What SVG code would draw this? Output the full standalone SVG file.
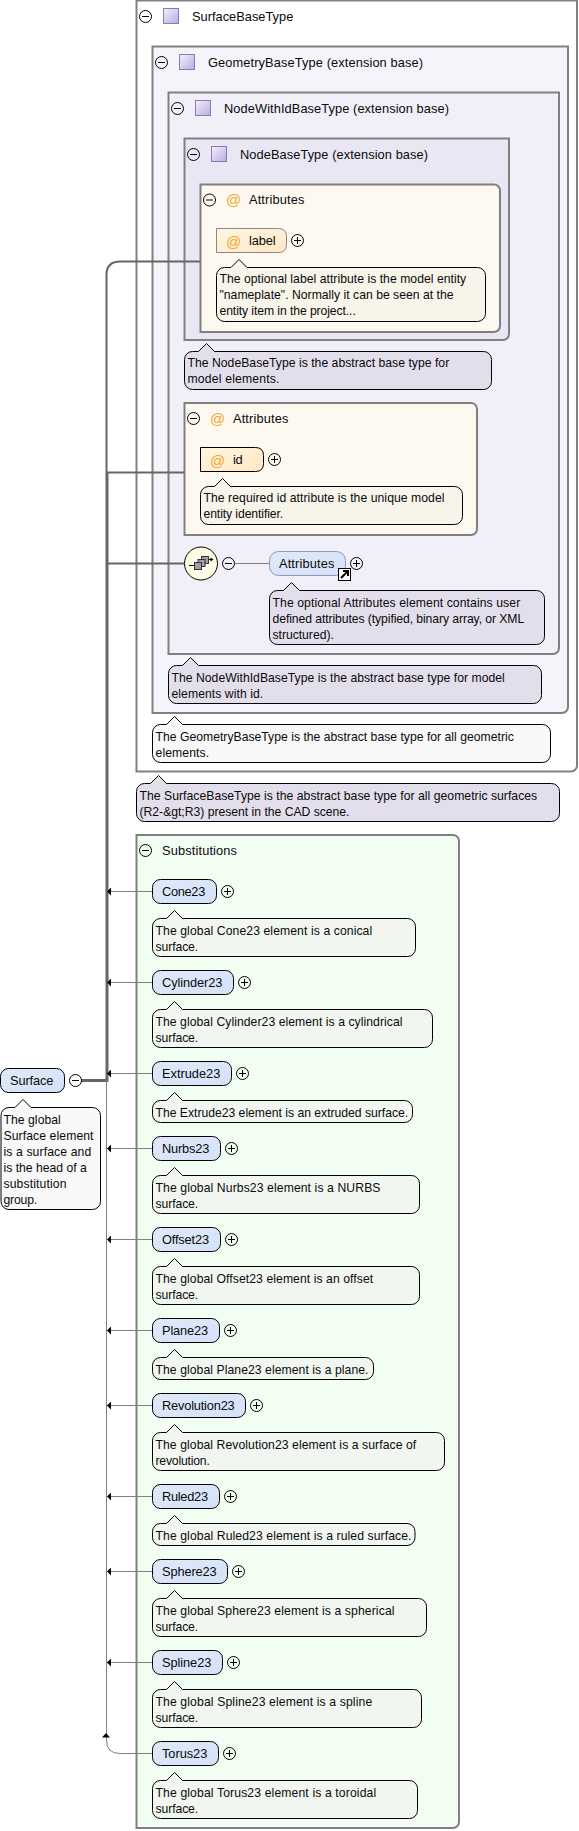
<svg xmlns="http://www.w3.org/2000/svg" width="579" height="1831" viewBox="0 0 579 1831">
<style>
text{font-family:"Liberation Sans",Arial,sans-serif;font-size:12.2px;fill:#0a0a0a}
.t{font-size:12.8px}
.box{stroke:#808080;stroke-width:2}
.pill{stroke:#000;stroke-width:1;fill:url(#blue)}
.call{stroke:#000;stroke-width:1}
.cg{fill:#f1f7f0}.cy{fill:#f7f4ea}.cp{fill:#e3deec}.cw{fill:#f8f8f8}
.sq{fill:url(#sq);stroke:#8a78b8;stroke-width:1}
.sw{fill:none;stroke:#000;stroke-width:1}
.sep{stroke:url(#sepg);stroke-width:2;fill:none}
.at{font-size:15px;fill:#f0a830}
.thin{fill:none;stroke:#808080;stroke-width:1}
.thick{fill:none;stroke:#666;stroke-width:2}
.ic{fill:#a0a0a0;stroke:#333}
</style>
<defs>
<linearGradient id="sepg" x1="0" x2="1" y1="0" y2="0"><stop offset="0" stop-color="#999" stop-opacity="0"/><stop offset=".2" stop-color="#777"/><stop offset=".6" stop-color="#bbb"/><stop offset="1" stop-color="#ddd" stop-opacity="0"/></linearGradient>
<linearGradient id="sq" x1="0" x2="1" y1="0" y2="1"><stop offset="0" stop-color="#f4f2fb"/><stop offset="1" stop-color="#b8aade"/></linearGradient>
<linearGradient id="blue" x1="0" x2="1" y1="0" y2="1"><stop offset="0" stop-color="#dfe9fa"/><stop offset="1" stop-color="#d4e1f7"/></linearGradient>
<linearGradient id="org" x1="0" x2="1" y1="0" y2="1"><stop offset="0" stop-color="#fff5e2"/><stop offset="1" stop-color="#ffe8c4"/></linearGradient>
<radialGradient id="seq"><stop offset="0" stop-color="#ffffff"/><stop offset="1" stop-color="#fdfbdc"/></radialGradient>
<marker id="arr" markerUnits="userSpaceOnUse" markerWidth="4" markerHeight="8" refX="4" refY="4" orient="auto"><path d="M0,0 L4,4 L0,8 z" fill="#000"/></marker>
<g id="minus"><circle r="6" fill="#fff" fill-opacity=".3" class="sw"/><path d="M-3.5,0H3.5" class="sw"/></g>
<g id="plus"><circle r="6" fill="#fff" fill-opacity=".3" class="sw"/><path d="M-3.5,0H3.5M0,-3.5V3.5" class="sw"/></g>
</defs>
<rect width="579" height="1831" fill="#fff"/>

<g id="SurfaceBaseType">
<path class="box" fill="#fff" d="M136.5,0.5H577V765.5A6,6 0 0 1 571,771.5H136.5z"/>
<use href="#minus" x="145.5" y="16.5"/><rect class="sq" x="163.5" y="8.5" width="15" height="15"/>
<text class="t" x="192" y="21" textLength="101.3">SurfaceBaseType</text>
<path class="sep" d="M140,33H467"/>
</g>
<g id="GeometryBaseType">
<path class="box" fill="#f6f4fb" d="M152.5,46.5H568V707A6,6 0 0 1 562,713H152.5z"/>
<use href="#minus" x="161.5" y="62.5"/><rect class="sq" x="179.5" y="54.5" width="15" height="15"/>
<text class="t" x="208" y="67" textLength="215">GeometryBaseType (extension base)</text>
<path class="sep" d="M153,79H467"/>
</g>
<g id="NodeWithIdBaseType">
<path class="box" fill="#f1eff8" d="M168.5,92.5H559V648A6,6 0 0 1 553,654H168.5z"/>
<use href="#minus" x="177.5" y="108.5"/><rect class="sq" x="195.5" y="100.5" width="15" height="15"/>
<text class="t" x="224" y="113" textLength="225">NodeWithIdBaseType (extension base)</text>
<path class="sep" d="M170,125H465"/>
</g>
<g id="NodeBaseType">
<path class="box" fill="#e9e7f3" d="M184.5,138.5H509V334A6,6 0 0 1 503,340H184.5z"/>
<use href="#minus" x="193.5" y="154.5"/><rect class="sq" x="211.5" y="146.5" width="15" height="15"/>
<text class="t" x="240" y="159" textLength="188">NodeBaseType (extension base)</text>
<path class="sep" d="M186,171H430"/>
</g>
<g id="Attributes1">
<path class="box" fill="#fef9f0" d="M200.5,184.5H494A6,6 0 0 1 500,190.5V326A6,6 0 0 1 494,332H200.5z"/>
<use href="#minus" x="209.5" y="200"/><text class="at" x="226" y="205">@</text>
<text class="t" x="249" y="204" textLength="55.3">Attributes</text>
<path class="sep" d="M202,215H430"/>
</g>
<g id="label">
<path stroke="#888" fill="url(#org)" d="M216.5,228.5H278.5Q286.5,228.5 286.5,236.5V244.5Q286.5,252.5 278.5,252.5H216.5z"/>
<text class="at" x="226" y="247">@</text><text class="t" x="249" y="245" textLength="26.7">label</text>
<use href="#plus" x="297.5" y="240.5"/>
<path class="call cy" d="M224.5,267.5h6.5l8,-8l8,8H477.5a8,8 0 0 1 8,8V313.5a8,8 0 0 1 -8,8H224.5a8,8 0 0 1 -8,-8V275.5a8,8 0 0 1 8,-8z"/>
<text x="219.5" y="283" textLength="246.7">The optional label attribute is the model entity</text>
<text x="219.5" y="299" textLength="234">"nameplate". Normally it can be seen at the</text>
<text x="219.5" y="315" textLength="136.3">entity item in the project...</text>
</g>
<g id="NodeBaseType-doc">
<path class="call cp" d="M192.5,351.5h6l8,-8l8,8H483.5a8,8 0 0 1 8,8V381.5a8,8 0 0 1 -8,8H192.5a8,8 0 0 1 -8,-8V359.5a8,8 0 0 1 8,-8z"/>
<text x="187.5" y="367" textLength="261.7">The NodeBaseType is the abstract base type for</text>
<text x="187.5" y="383" textLength="92">model elements.</text>
</g>
<g id="Attributes2">
<path class="box" fill="#fef9f0" d="M184.5,403H471A6,6 0 0 1 477,409V529A6,6 0 0 1 471,535H184.5z"/>
<use href="#minus" x="193.5" y="418.5"/><text class="at" x="210" y="424">@</text>
<text class="t" x="233" y="423" textLength="55.3">Attributes</text>
<path class="sep" d="M186,434H405"/>
</g>
<g id="id">
<path stroke="#000" fill="url(#org)" d="M200.5,447.5H255.5Q263.5,447.5 263.5,455.5V463.5Q263.5,471.5 255.5,471.5H200.5z"/>
<text class="at" x="210" y="466">@</text><text class="t" x="233" y="464" textLength="9.7">id</text>
<use href="#plus" x="274.5" y="459.5"/>
<path class="call cy" d="M208.5,486.5h6l8,-8l8,8H454.5a8,8 0 0 1 8,8V516.5a8,8 0 0 1 -8,8H208.5a8,8 0 0 1 -8,-8V494.5a8,8 0 0 1 8,-8z"/>
<text x="203.5" y="502" textLength="241">The required id attribute is the unique model</text>
<text x="203.5" y="518" textLength="79.7">entity identifier.</text>
</g>
<g id="sequence">
<circle cx="201" cy="563.5" r="16.5" fill="url(#seq)" stroke="#000"/>
<path d="M189,565.5H194M208,559.5H212" stroke="#000"/><path d="M213.5,559.5l-3,-2v4z" fill="#000"/>
<rect class="ic" x="201.5" y="556.5" width="7" height="7"/>
<rect class="ic" x="198" y="559.5" width="7" height="7"/>
<rect class="ic" x="194.5" y="562.5" width="7" height="7"/>
<use href="#minus" x="228.5" y="563.5"/>
</g>
<g id="AttributesElement">
<rect x="269.5" y="551.5" width="76" height="24" rx="9" fill="url(#blue)" stroke="#8a9ab8"/>
<text class="t" x="279" y="568" textLength="55.3">Attributes</text>
<rect x="338.5" y="568.5" width="12" height="12" fill="#fff" stroke="#000"/>
<path d="M341,578L347.5,571.5M343,571H348V576" stroke="#000" stroke-width="2" fill="none"/>
<use href="#plus" x="356.5" y="563.5"/>
<path class="call cp" d="M277.5,590.5h6l8,-8l8,8H536.5a8,8 0 0 1 8,8V636.5a8,8 0 0 1 -8,8H277.5a8,8 0 0 1 -8,-8V598.5a8,8 0 0 1 8,-8z"/>
<text x="272.5" y="606.5" textLength="247.7">The optional Attributes element contains user</text>
<text x="272.5" y="622.5" textLength="251.7">defined attributes (typified, binary array, or XML</text>
<text x="272.5" y="638.5" textLength="61.3">structured).</text>
</g>
<g id="NodeWithIdBaseType-doc">
<path class="call cp" d="M176.5,665.5h6l8,-8l8,8H533.5a8,8 0 0 1 8,8V695.5a8,8 0 0 1 -8,8H176.5a8,8 0 0 1 -8,-8V673.5a8,8 0 0 1 8,-8z"/>
<text x="171.5" y="681.5" textLength="333.3">The NodeWithIdBaseType is the abstract base type for model</text>
<text x="171.5" y="697.5" textLength="91.7">elements with id.</text>
</g>
<g id="GeometryBaseType-doc">
<path class="call cw" d="M160.5,724.5h6l8,-8l8,8H542.5a8,8 0 0 1 8,8V754.5a8,8 0 0 1 -8,8H160.5a8,8 0 0 1 -8,-8V732.5a8,8 0 0 1 8,-8z"/>
<text x="155.5" y="740.5" textLength="358.3">The GeometryBaseType is the abstract base type for all geometric</text>
<text x="155.5" y="756.5" textLength="53.7">elements.</text>
</g>
<g id="SurfaceBaseType-doc">
<path class="call cp" d="M144.5,783.5h6l8,-8l8,8H551.5a8,8 0 0 1 8,8V813.5a8,8 0 0 1 -8,8H144.5a8,8 0 0 1 -8,-8V791.5a8,8 0 0 1 8,-8z"/>
<text x="139.5" y="799.5" textLength="397.7">The SurfaceBaseType is the abstract base type for all geometric surfaces</text>
<text x="139.5" y="815.5" textLength="210">(R2-&amp;gt;R3) present in the CAD scene.</text>
</g>
<g id="Substitutions">
<path class="box" fill="#f3fef3" d="M136.5,835H453A6,6 0 0 1 459,841V1822A6,6 0 0 1 453,1828H136.5z"/>
<use href="#minus" x="145.5" y="850.5"/>
<text class="t" x="162" y="855" textLength="75">Substitutions</text>
<path class="sep" d="M140,866H380"/>
</g>

<g id="Cone23">
<rect class="pill" x="152.5" y="879.5" width="64" height="24" rx="8"/><text class="t" x="162" y="896" textLength="43.3">Cone23</text><use href="#plus" x="227.5" y="891.5"/>
<path class="call cg" d="M160.5,918.5h6l8,-8l8,8H407.5a8,8 0 0 1 8,8V948.5a8,8 0 0 1 -8,8H160.5a8,8 0 0 1 -8,-8V926.5a8,8 0 0 1 8,-8z"/>
<text x="155.5" y="934.5" textLength="216.7">The global Cone23 element is a conical</text><text x="155.5" y="950.5" textLength="42.7">surface.</text>
</g>
<g id="Cylinder23">
<rect class="pill" x="152.5" y="970.5" width="81" height="24" rx="8"/><text class="t" x="162" y="987" textLength="60.3">Cylinder23</text><use href="#plus" x="244.5" y="982.5"/>
<path class="call cg" d="M160.5,1009.5h6l8,-8l8,8H424.5a8,8 0 0 1 8,8V1039.5a8,8 0 0 1 -8,8H160.5a8,8 0 0 1 -8,-8V1017.5a8,8 0 0 1 8,-8z"/>
<text x="155.5" y="1025.5" textLength="247">The global Cylinder23 element is a cylindrical</text><text x="155.5" y="1041.5" textLength="42.7">surface.</text>
</g>
<g id="Extrude23">
<rect class="pill" x="152.5" y="1061.5" width="79" height="24" rx="8"/><text class="t" x="162" y="1078" textLength="58.3">Extrude23</text><use href="#plus" x="242.5" y="1073.5"/>
<path class="call cg" d="M160.5,1100.5h6l8,-8l8,8H404.5a8,8 0 0 1 8,8V1114.5a8,8 0 0 1 -8,8H160.5a8,8 0 0 1 -8,-8V1108.5a8,8 0 0 1 8,-8z"/>
<text x="155.5" y="1116.5" textLength="252.7">The Extrude23 element is an extruded surface.</text>
</g>
<g id="Nurbs23">
<rect class="pill" x="152.5" y="1136.5" width="68" height="24" rx="8"/><text class="t" x="162" y="1153" textLength="47.3">Nurbs23</text><use href="#plus" x="231.5" y="1148.5"/>
<path class="call cg" d="M160.5,1175.5h6l8,-8l8,8H411.5a8,8 0 0 1 8,8V1205.5a8,8 0 0 1 -8,8H160.5a8,8 0 0 1 -8,-8V1183.5a8,8 0 0 1 8,-8z"/>
<text x="155.5" y="1191.5" textLength="225">The global Nurbs23 element is a NURBS</text><text x="155.5" y="1207.5" textLength="42.7">surface.</text>
</g>
<g id="Offset23">
<rect class="pill" x="152.5" y="1227.5" width="68" height="24" rx="8"/><text class="t" x="162" y="1244" textLength="47">Offset23</text><use href="#plus" x="231.5" y="1239.5"/>
<path class="call cg" d="M160.5,1266.5h6l8,-8l8,8H411.5a8,8 0 0 1 8,8V1296.5a8,8 0 0 1 -8,8H160.5a8,8 0 0 1 -8,-8V1274.5a8,8 0 0 1 8,-8z"/>
<text x="155.5" y="1282.5" textLength="217.7">The global Offset23 element is an offset</text><text x="155.5" y="1298.5" textLength="42.7">surface.</text>
</g>
<g id="Plane23">
<rect class="pill" x="152.5" y="1318.5" width="67" height="24" rx="8"/><text class="t" x="162" y="1335" textLength="46">Plane23</text><use href="#plus" x="230.5" y="1330.5"/>
<path class="call cg" d="M160.5,1357.5h6l8,-8l8,8H365.5a8,8 0 0 1 8,8V1371.5a8,8 0 0 1 -8,8H160.5a8,8 0 0 1 -8,-8V1365.5a8,8 0 0 1 8,-8z"/>
<text x="155.5" y="1373.5" textLength="213">The global Plane23 element is a plane.</text>
</g>
<g id="Revolution23">
<rect class="pill" x="152.5" y="1393.5" width="93" height="24" rx="8"/><text class="t" x="162" y="1410" textLength="72.7">Revolution23</text><use href="#plus" x="256.5" y="1405.5"/>
<path class="call cg" d="M160.5,1432.5h6l8,-8l8,8H436.5a8,8 0 0 1 8,8V1462.5a8,8 0 0 1 -8,8H160.5a8,8 0 0 1 -8,-8V1440.5a8,8 0 0 1 8,-8z"/>
<text x="155.5" y="1448.5" textLength="260.7">The global Revolution23 element is a surface of</text><text x="155.5" y="1464.5" textLength="54.3">revolution.</text>
</g>
<g id="Ruled23">
<rect class="pill" x="152.5" y="1484.5" width="67" height="24" rx="8"/><text class="t" x="162" y="1501" textLength="46">Ruled23</text><use href="#plus" x="230.5" y="1496.5"/>
<path class="call cg" d="M160.5,1523.5h6l8,-8l8,8H407a8,8 0 0 1 8,8V1537.5a8,8 0 0 1 -8,8H160.5a8,8 0 0 1 -8,-8V1531.5a8,8 0 0 1 8,-8z"/>
<text x="155.5" y="1539.5" textLength="256">The global Ruled23 element is a ruled surface.</text>
</g>
<g id="Sphere23">
<rect class="pill" x="152.5" y="1559.5" width="75" height="24" rx="8"/><text class="t" x="162" y="1576" textLength="54.7">Sphere23</text><use href="#plus" x="238.5" y="1571.5"/>
<path class="call cg" d="M160.5,1598.5h6l8,-8l8,8H418.5a8,8 0 0 1 8,8V1628.5a8,8 0 0 1 -8,8H160.5a8,8 0 0 1 -8,-8V1606.5a8,8 0 0 1 8,-8z"/>
<text x="155.5" y="1614.5" textLength="239">The global Sphere23 element is a spherical</text><text x="155.5" y="1630.5" textLength="42.7">surface.</text>
</g>
<g id="Spline23">
<rect class="pill" x="152.5" y="1650.5" width="70" height="24" rx="8"/><text class="t" x="162" y="1667" textLength="49.3">Spline23</text><use href="#plus" x="233.5" y="1662.5"/>
<path class="call cg" d="M160.5,1689.5h6l8,-8l8,8H413.5a8,8 0 0 1 8,8V1719.5a8,8 0 0 1 -8,8H160.5a8,8 0 0 1 -8,-8V1697.5a8,8 0 0 1 8,-8z"/>
<text x="155.5" y="1705.5" textLength="216.7">The global Spline23 element is a spline</text><text x="155.5" y="1721.5" textLength="42.7">surface.</text>
</g>
<g id="Torus23">
<rect class="pill" x="152.5" y="1741.5" width="66" height="24" rx="8"/><text class="t" x="162" y="1758" textLength="45.3">Torus23</text><use href="#plus" x="229.5" y="1753.5"/>
<path class="call cg" d="M160.5,1780.5h6l8,-8l8,8H409.5a8,8 0 0 1 8,8V1810.5a8,8 0 0 1 -8,8H160.5a8,8 0 0 1 -8,-8V1788.5a8,8 0 0 1 8,-8z"/>
<text x="155.5" y="1796.5" textLength="220.7">The global Torus23 element is a toroidal</text><text x="155.5" y="1812.5" textLength="42.7">surface.</text>
</g>
<g id="Surface">
<rect class="pill" x="0.5" y="1068.5" width="64" height="24" rx="8"/><text class="t" x="10" y="1085" textLength="43.3">Surface</text>
<path class="call cw" d="M9,1107.5h6l8,-8l8,8H92.5a8,8 0 0 1 8,8V1201.5a8,8 0 0 1 -8,8H9a8,8 0 0 1 -8,-8V1115.5a8,8 0 0 1 8,-8z"/>
<text x="3.5" y="1123.5" textLength="57.3">The global</text><text x="3.5" y="1139.5" textLength="90">Surface element</text><text x="3.5" y="1155.5" textLength="87.7">is a surface and</text><text x="3.5" y="1171.5" textLength="83.3">is the head of a</text><text x="3.5" y="1187.5" textLength="63">substitution</text><text x="3.5" y="1203.5" textLength="33.7">group.</text>
</g>

<g id="connectors">
<path class="thick" d="M200,261.5H120Q106.5,261.5 106.5,275V472"/>
<path class="thick" d="M184,472.5H106.5"/>
<path class="thick" d="M184,563.5H106.5"/>
<path class="thick" style="stroke-width:3" d="M81,1080.5H107V472"/>
<path class="thin" d="M235,563.5H269"/>
<path class="thin" d="M106.5,1080V1740Q106.5,1753.5 120,1753.5H152"/>
<path d="M106,1733L102,1737.5H110z" fill="#000"/>
<path class="thin" marker-end="url(#arr)" d="M152,891.5H107"/>
<path class="thin" marker-end="url(#arr)" d="M152,982.5H107"/>
<path class="thin" marker-end="url(#arr)" d="M152,1073.5H107"/>
<path class="thin" marker-end="url(#arr)" d="M152,1148.5H107"/>
<path class="thin" marker-end="url(#arr)" d="M152,1239.5H107"/>
<path class="thin" marker-end="url(#arr)" d="M152,1330.5H107"/>
<path class="thin" marker-end="url(#arr)" d="M152,1405.5H107"/>
<path class="thin" marker-end="url(#arr)" d="M152,1496.5H107"/>
<path class="thin" marker-end="url(#arr)" d="M152,1571.5H107"/>
<path class="thin" marker-end="url(#arr)" d="M152,1662.5H107"/>
<use href="#minus" x="75.5" y="1080.5"/>
</g>
</svg>
